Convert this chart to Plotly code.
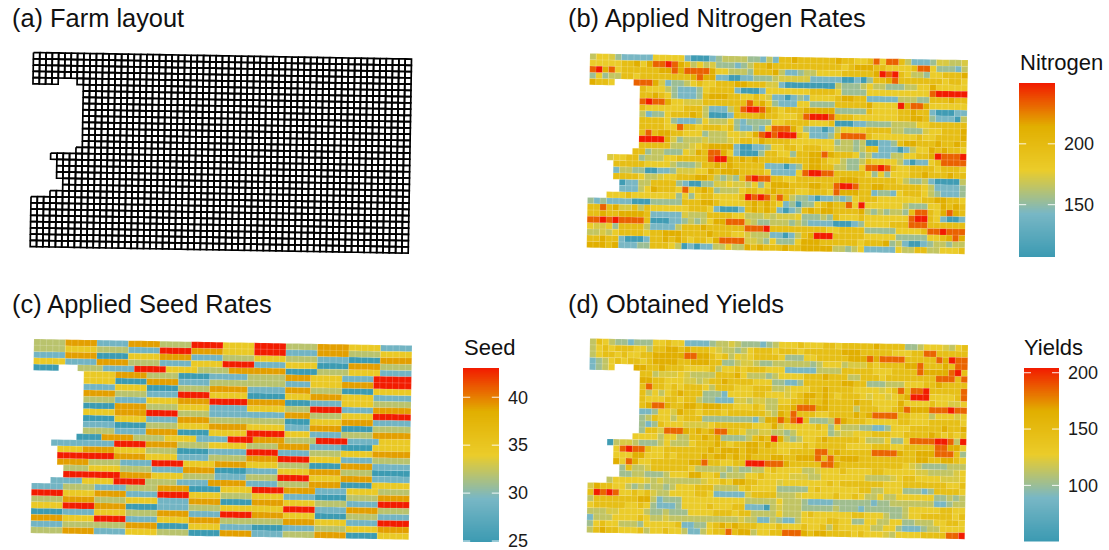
import numpy as np
import plotly.graph_objects as go
from plotly.colors import sample_colorscale

# ---------- values (one character per plot, '.' = no plot) ----------
seed_levels = [25, 29, 32, 34.5, 39, 43]
nitrogen_levels = [110, 143, 154, 166, 173, 179, 196, 214, 233, 250]
yield_levels = [53, 89, 102, 113, 121, 127, 145, 165, 185, 204]

seed_rows = [
    "22222 44444 11111 44444 22222 55555 33333 55555 22222 44444 33333 11111",
    "22222 33333 22222 11111 55555 44444 33333 55555 11111 44444 22222 33333",
    "11111 44444 00000 33333 44444 11111 22222 33333 22222 11111 00000 44444",
    "33333 11111 44444 22222 11111 33333 55555 11111 33333 00000 44444 22222",
    "0000... 2222 11111 55555 33333 22222 444444444 00000 22222 33333 11111",
    "........ 33333 44444 22222 00000 111111 222222 4444 33333 11111 555555",
    "........ 33333 00000 44444 11111 222222 222222 1111 33333 44444 555555",
    "........ 11111 33333 00000 22222 444444 111111 4444 22222 00000 333333",
    "........ 44444 22222 11111 55555 333333 000000 3333 44444 33333 111111",
    "........ 22222 11111 33333 44444 555555 444444 0000 11111 33333 222222",
    "........ 00000 44444 22222 33333 111111 333333 2222 55555 11111 444444",
    "........ 33333 44444 55555 22222 111111 111111 4444 22222 33333 555555",
    "........ 00000 33333 11111 44444 222222 222222 0000 33333 44444 111111",
    "........ 11111 00000 22222 33333 444444 333333 1111 44444 00000 222222",
    "........ 22222 11111 44444 00000 333333 555555 3333 11111 22222 444444",
    "....... 0000 44444 22222 33333 11111 5555 44444 22222 55555 11111 33333",
    "... 1111111111 55555 44444 22222 333333 22222 44444 11111 00000 333333",
    ".... 3333 44444 33333 22222 00000 111111 55555 11111 22222 33333 444444",
    ".... 555555555 44444 33333 11111 222222 44444 55555 33333 11111 222222",
    ".... 44444 22222 11111 55555 33333 44444 33333 22222 00000 44444 111111",
    "..... 2222 33333 22222 11111 44444 00000 11111 33333 44444 22222 000000",
    "..... 555555555 44444 33333 22222 11111 22222 55555 33333 44444 111111",
    "... 11111 33333 55555 22222 11111 444444 11111 22222 44444 00000 333333",
    "11111 22222 11111 22222 44444 00000 33333 55555 44444 11111 33333 22222",
    "55555 33333 44444 11111 55555 33333 22222 33333 11111 00000 22222 44444",
    "22222 44444 22222 33333 11111 44444 00000 44444 33333 22222 11111 55555",
    "33333 55555 44444 00000 11111 22222 33333 33333 55555 11111 44444 22222",
    "00000 11111 33333 22222 44444 11111 55555 44444 33333 00000 22222 11111",
    "44444 33333 55555 11111 33333 44444 22222 22222 44444 33333 11111 55555",
    "11111 22222 22222 44444 00000 33333 11111 00000 11111 22222 33333 44444",
    "22222 44444 11111 33333 22222 00000 44444 11111 22222 44444 00000 33333",
]

nitrogen_rows = [
    "3554211111 5555510001 2333322131 6676666667 6655685886 3111244334",
    "5555566757 8898763534 2221236676 6666666666 5677766555 5688522213",
    "8978566666 6778788887 5533326667 3112335555 6666679896 5332556667",
    "2523366566 6666667877 1100112223 4444411111 0010266786 6666665665",
    "7665...888 7412235655 6667766644 1000000003 2223533222 3355755555",
    "........65 5532111256 6661000155 5555566665 2222555555 5555899999",
    "........66 7652111267 7766556541 1012155556 7766111113 3322666766",
    "........89 8875544466 6666686752 1115522226 6666755559 7887555555",
    "........65 5555566631 1136899876 5666777772 2222655556 6766100011",
    "........31 2256667630 0016666766 5556899986 6655555556 6776211103",
    "........66 6652111253 3352122225 5666655560 0011222233 3355666666",
    "........66 6655866566 6562112158 8875211013 5555666633 2224556667",
    "........68 6776655523 3355457898 9996511126 8888655555 5565566667",
    "........99 9974233343 3345665766 6655555552 3323001126 7766676676",
    "........66 6663334567 7771001125 5665666553 3323661110 1355767665",
    ".......662 3322254768 8751000266 5526677876 6652311133 5566798889",
    "...4556623 3355666668 9976767666 6666677655 3223655553 1011568888",
    "....666665 5553222366 7676666611 1012677663 3225889865 5666656665",
    "....133220 0112444557 6777666651 1115899886 6666525255 5667666766",
    "....666653 3455666776 3232689886 6556666666 7776666665 3223100003",
    ".....01133 6666210022 4454435257 7766677668 9986677666 6665311112",
    ".....11135 7666585676 2333566567 6665566658 7776612215 6665321112",
    "...5556555 5555252566 5555698986 8632210112 1256665555 5556677665",
    "2121111000 2222266677 6555567676 5120225676 6859555555 3222557676",
    "6686744636 5555556665 1000167676 1012676776 6667323233 2688657876",
    "6676677776 1111143336 6665533343 4445222326 5556555555 5899651001",
    "8898988886 0001123235 7788843223 3323211110 0012555566 6888666666",
    "5445266663 1111366676 6666688896 6666666655 6666222225 5556889888",
    "3343566665 6677766667 6665543331 1013679996 6666555552 2222556787",
    "6676610001 6676765665 7888844325 2225777666 6665666723 1001233233",
    "7776711122 6665301011 3353376766 6766777773 3235111115 3366335556",
]

yield_rows = [
    "3653221222 5565511112 3343222123 5556555665 6666676666 2235554356",
    "3565666553 6677676665 4332356665 6665666666 7776666655 5668866666",
    "3566565566 7777788776 5635456666 5222556666 6777878888 6666687988",
    "1235656656 7777667776 6223443223 3333323555 3444656666 7786667688",
    "1235...776 6766655556 3556566655 5111113333 6666655566 6687777896",
    "........66 3444543333 6667533323 5555666766 6336665666 6666688868",
    "........77 6655544346 6766665552 2112666666 7766222333 5556676666",
    "........68 6656566653 6665556663 3455566766 6655554568 6889666668",
    "........63 5356766622 2155556655 5456776765 6665455456 7999555568",
    "........65 5566566322 1114434433 5566766766 6676655557 5555655445",
    "........67 8876677677 7665556533 6678887766 6636665567 8777888988",
    "........11 2554766566 6566666643 7686665566 6676788886 6555355545",
    "........23 6553566622 2222221377 8789622238 7666555556 6555666665",
    "........21 2655544445 6666665557 4555556525 3332211255 5666667667",
    "........26 6488876767 8866533443 3235555523 4455566655 6666765656",
    ".......555 5355336676 7222236769 7323556766 6665333522 5888899839",
    "...0344322 2353335666 7656677676 5555656666 6555566655 6666688775",
    "....589886 5566666667 6777677666 5566668867 6666688887 6677788862",
    "....555775 5565666676 7767676667 7667778686 7776666666 6677667765",
    "....758755 6666667786 6556699988 8766666887 6666666666 5432222333",
    ".....26334 6666665333 3323223356 5555334555 6555566555 5544333345",
    ".....22332 2235557755 6233355655 5544433555 5555333345 6655554445",
    "...3555554 3433333345 5657766555 4555555565 6666666555 6666666556",
    "4766553232 3323555666 3333565555 2222256555 5556633555 2221266665",
    "6989855656 4335555665 1111146666 3334555556 5565335335 5555522323",
    "3666666677 3122255555 5555533333 5333211112 2222212233 3333311233",
    "5666665565 2111255556 5556611103 4333222223 2221222222 3555556655",
    "3334455553 2232225555 6665663333 5333565555 5566555322 3556666656",
    "1333555565 3343333333 3333433113 2113555566 5522553355 2233355665",
    "2565533325 5555611225 6767666555 6555655636 5555533552 1112335555",
    "3676655563 5565531135 6686773556 6888767766 6656555435 5556666889",
]

panel_titles = ["(a) Farm layout", "(b) Applied Nitrogen Rates",
                "(c) Applied Seed Rates", "(d) Obtained Yields"]
legend_titles = ["Nitrogen", "Seed", "Yields"]
nitrogen_ticks = [150, 200]
seed_ticks = [25, 30, 35, 40]
yield_ticks = [100, 150, 200]
nitrogen_range = [107, 250]
seed_range = [24.9, 43.05]
yield_range = [50, 204.2]

# ---------- styles / layout ----------
W, H = 1109, 550
FONT = "Liberation Sans, Arial, sans-serif"
ZISSOU = [[0, "#3B9AB2"], [0.25, "#78B7C5"], [0.5, "#EBCC2A"], [0.75, "#E1AF00"], [1, "#F21A00"]]
CW, CH = 6.3, 6.26          # pixels of one plot along and across the field
TILT_X, TILT_Y = -0.017, 0.0175   # the field is slightly turned


def clean(rows):
    out = [r.replace(" ", "") for r in rows]
    for i, r in enumerate(out):
        assert len(r) == 60, (i, len(r))
    return out


def corners(c, r):
    xs, ys = [], []
    for cc, rr in ((c, r), (c + 1, r), (c + 1, r + 1), (c, r + 1), (c, r)):
        xs.append(cc + TILT_X * rr)
        ys.append(rr + TILT_Y * cc)
    return xs, ys


fig = go.Figure()
layout = {}


def add_field_axes(n, ox, oy):
    x0 = ox - CW
    x1 = ox + 61 * CW
    y0 = oy - CH
    y1 = oy + 32.5 * CH
    layout[f"xaxis{n}"] = dict(domain=[x0 / W, x1 / W], range=[-1, 61], visible=False, fixedrange=True)
    layout[f"yaxis{n}"] = dict(domain=[1 - y1 / H, 1 - y0 / H], range=[32.5, -1], visible=False,
                               fixedrange=True, anchor=f"x{n}")


def add_cells(n, rows, levels, vrange):
    rows = clean(rows)
    for k, level in enumerate(levels):
        xs, ys = [], []
        for r, row in enumerate(rows):
            for c, ch in enumerate(row):
                if ch == str(k):
                    a, b = corners(c, r)
                    xs += a + [None]
                    ys += b + [None]
        t = (level - vrange[0]) / (vrange[1] - vrange[0])
        colour = sample_colorscale(ZISSOU, [min(max(t, 0), 1)])[0]
        fig.add_trace(go.Scatter(x=xs, y=ys, mode="lines", fill="toself", fillcolor=colour,
                                 line=dict(color="rgba(255,255,255,0.2)", width=0.5),
                                 hoverinfo="skip", showlegend=False, xaxis=f"x{n}", yaxis=f"y{n}"))


def add_bar(n, px_left, px_right, px_top, px_bottom, vrange, ticks):
    layout[f"xaxis{n}"] = dict(domain=[px_left / W, px_right / W], range=[0, 1], visible=False, fixedrange=True)
    layout[f"yaxis{n}"] = dict(domain=[1 - px_bottom / H, 1 - px_top / H], range=vrange, side="right",
                               anchor=f"x{n}", tickvals=ticks, ticktext=[str(v) for v in ticks],
                               showgrid=False, zeroline=False, showline=False, ticks="", fixedrange=True,
                               ticklabelstandoff=8, ticklabeloverflow="allow",
                               tickfont=dict(family=FONT, size=18, color="#1a1a1a"))
    ys = np.linspace(vrange[0], vrange[1], 256)
    fig.add_trace(go.Heatmap(z=[[v] for v in ys], y=ys, x=[0.5], dx=1, colorscale=ZISSOU,
                             zmin=vrange[0], zmax=vrange[1], showscale=False, hoverinfo="skip",
                             xaxis=f"x{n}", yaxis=f"y{n}"))
    tx, ty = [], []
    for v in ticks:
        tx += [0, 0.2, None, 0.8, 1, None]
        ty += [v, v, None, v, v, None]
    fig.add_trace(go.Scatter(x=tx, y=ty, mode="lines", line=dict(color="rgba(255,255,255,0.9)", width=1),
                             hoverinfo="skip", showlegend=False, xaxis=f"x{n}", yaxis=f"y{n}"))


# (a) layout grid: same plots as the seed table
add_field_axes(1, 33.5, 52.5)
xs, ys = [], []
for r, row in enumerate(clean(seed_rows)):
    for c, ch in enumerate(row):
        if ch != ".":
            a, b = corners(c, r)
            xs += a + [None]
            ys += b + [None]
fig.add_trace(go.Scatter(x=xs, y=ys, mode="lines", line=dict(color="black", width=1.7),
                         hoverinfo="skip", showlegend=False, xaxis="x1", yaxis="y1"))

# (b), (c), (d)
add_field_axes(2, 590, 53.5)
add_cells(2, nitrogen_rows, nitrogen_levels, nitrogen_range)
add_field_axes(3, 34, 339)
add_cells(3, seed_rows, seed_levels, seed_range)
add_field_axes(4, 590, 338.5)
add_cells(4, yield_rows, yield_levels, yield_range)

# legends
add_bar(5, 1019, 1055, 83, 257, nitrogen_range, nitrogen_ticks)
add_bar(6, 463, 499, 368, 542, seed_range, seed_ticks)
add_bar(7, 1024, 1059, 368, 541.7, yield_range, yield_ticks)

annotations = []
for text, x, y, size in [
    (panel_titles[0], 10.5, 18, 25.4), (panel_titles[1], 566.5, 18, 25.4),
    (panel_titles[2], 10.5, 304, 25.4), (panel_titles[3], 566.5, 304, 25.4),
    (legend_titles[0], 1018.5, 62, 22), (legend_titles[1], 462.5, 347, 22), (legend_titles[2], 1022.5, 347, 22),
]:
    annotations.append(dict(text=text, x=x / W, y=1 - y / H, xref="paper", yref="paper",
                            xanchor="left", yanchor="middle", showarrow=False, borderpad=0,
                            font=dict(family=FONT, size=size, color="#111111")))

fig.update_layout(width=W, height=H, margin=dict(l=0, r=0, t=0, b=0, autoexpand=False), autosize=False,
                  plot_bgcolor="white", paper_bgcolor="white", annotations=annotations,
                  font=dict(family=FONT), **layout)

fig.write_html("out.html", config={"displayModeBar": False},
               post_script="document.body.style.margin='0';document.documentElement.style.overflow='hidden';")
